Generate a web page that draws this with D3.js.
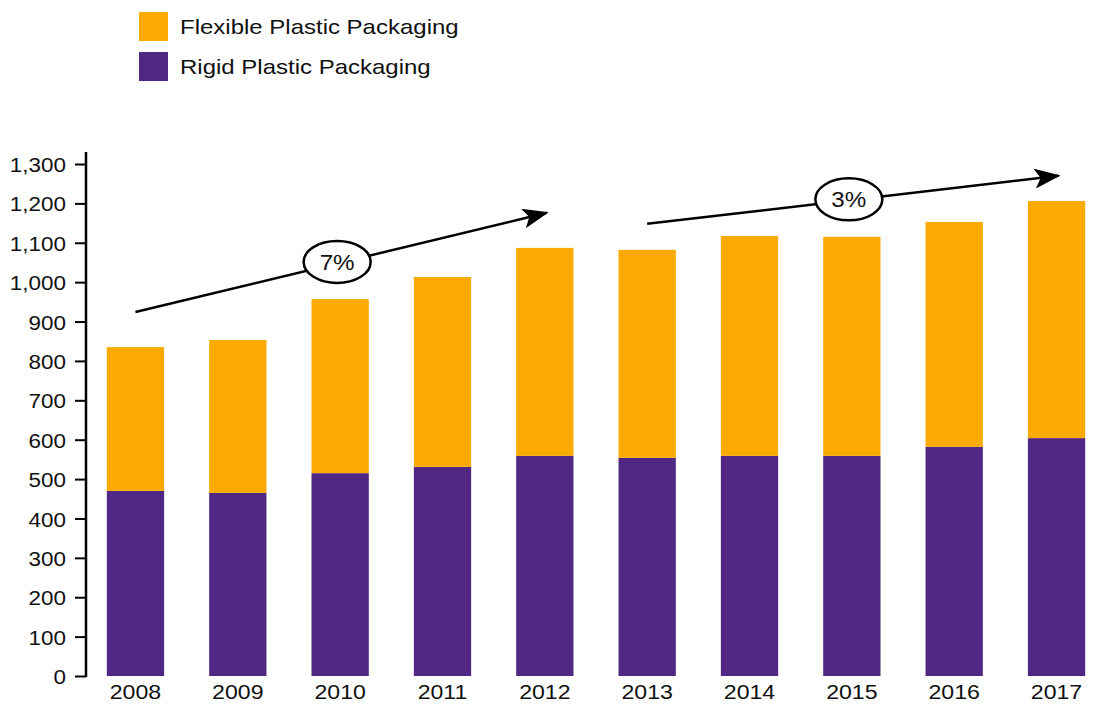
<!DOCTYPE html>
<html>
<head>
<meta charset="utf-8">
<script src="https://cdn.jsdelivr.net/npm/d3@7"></script>
<style>
  body { margin: 0; background: #fff; }
  svg { font-family: "Liberation Sans", Arial, Helvetica, sans-serif; }
</style>
</head>
<body>
<div id="chart"></div>
<script>
  // data
  let years = ["2008", "2009", "2010", "2011", "2012", "2013", "2014", "2015", "2016", "2017"];
  let rigid = [470, 465, 515, 531, 559, 554, 559, 559, 582, 604];
  let flexible = [365, 388, 442, 482, 528, 528, 558, 556, 571, 602];
  let seriesNames = ["Flexible Plastic Packaging", "Rigid Plastic Packaging"];
  let yTicks = [0, 100, 200, 300, 400, 500, 600, 700, 800, 900, 1000, 1100, 1200, 1300];

  // growth arrows: from year/value to year/value, label in the middle
  let growthLabels = ["7%", "3%"];
  let growthFrom = [["2008", 924], ["2013", 1148]];
  let growthTo = [["2012", 1176], ["2017", 1270]];

  let width = 1097, height = 704;
  let colors = { flexible: "#FAAA00", rigid: "#502884" };

  // the original text is drawn a little wider than Liberation Sans
  let stretch = function(sel, k) {
    sel.each(function() {
      let t = d3.select(this);
      let x0 = +t.attr("x") || 0;
      t.attr("x", x0 / k).attr("transform", "scale(" + k + ",1)");
    });
  };

  let svg = d3.select("#chart").append("svg")
              .attr("width", width)
              .attr("height", height);

  let x = d3.scaleBand()
            .domain(years)
            .range([84.3, 1107.7])
            .paddingInner(0.44)
            .paddingOuter(0.22);

  let y = d3.scaleLinear()
            .domain([0, 1300])
            .range([676, 164]);

  // bars
  let rows = years.map(function(yr, i) {
    return { year: yr, rigid: rigid[i], flexible: flexible[i] };
  });
  let stack = d3.stack().keys(["rigid", "flexible"])(rows);

  svg.append("g")
     .selectAll("g")
     .data(stack)
     .enter()
     .append("g")
     .attr("fill", function(d) { return colors[d.key]; })
     .selectAll("rect")
     .data(function(d) { return d; })
     .enter()
     .append("rect")
     .attr("x", function(d) { return x(d.data.year); })
     .attr("width", x.bandwidth())
     .attr("y", function(d) { return y(d[1]); })
     .attr("height", function(d) { return y(d[0]) - y(d[1]); });

  // y axis
  let yAxis = svg.append("g")
                 .attr("transform", "translate(86,0)")
                 .call(d3.axisLeft(y)
                         .tickValues(yTicks)
                         .tickFormat(d3.format(","))
                         .tickSize(11)
                         .tickPadding(9));
  yAxis.select(".domain").remove();
  yAxis.selectAll(".tick line").attr("stroke", "#000").attr("stroke-width", 2);
  yAxis.selectAll(".tick text")
       .attr("fill", "#111")
       .attr("dy", "0.36em")
       .style("font-size", "21px")
       .call(stretch, 1.07);
  svg.append("line")
     .attr("x1", 86).attr("x2", 86)
     .attr("y1", y(0) + 1).attr("y2", 152)
     .attr("stroke", "#000")
     .attr("stroke-width", 2.5);

  // x axis labels
  let xAxis = svg.append("g")
                 .attr("transform", "translate(0," + y(0) + ")")
                 .call(d3.axisBottom(x).tickSize(0).tickPadding(8));
  xAxis.select(".domain").remove();
  xAxis.selectAll(".tick text")
       .attr("fill", "#111")
       .style("font-size", "21px")
       .call(stretch, 1.1);

  // legend
  let legend = svg.append("g").attr("transform", "translate(139,12)");
  let legendColors = [colors.flexible, colors.rigid];
  let legendItems = legend.selectAll("g")
                          .data(seriesNames)
                          .enter()
                          .append("g")
                          .attr("transform", function(d, i) { return "translate(0," + (i * 40) + ")"; });
  legendItems.append("rect")
             .attr("width", 29)
             .attr("height", 29)
             .attr("fill", function(d, i) { return legendColors[i]; });
  legendItems.append("text")
             .attr("x", 41)
             .attr("y", 22)
             .attr("fill", "#111")
             .style("font-size", "20px")
             .text(function(d) { return d; })
             .call(stretch, 1.2);

  // arrowhead
  svg.append("defs")
     .append("marker")
     .attr("id", "arrowhead")
     .attr("viewBox", "0 0 26 20")
     .attr("refX", 24)
     .attr("refY", 10)
     .attr("markerWidth", 26)
     .attr("markerHeight", 20)
     .attr("markerUnits", "userSpaceOnUse")
     .attr("orient", "auto")
     .append("path")
     .attr("d", "M0,0 L26,10 L0,20 L6,10 Z")
     .attr("fill", "#000");

  let cx = function(yr) { return x(yr) + x.bandwidth() / 2; };

  growthLabels.forEach(function(label, i) {
    let x1 = cx(growthFrom[i][0]), y1 = y(growthFrom[i][1]);
    let x2 = cx(growthTo[i][0]) + 2, y2 = y(growthTo[i][1]);
    let g = svg.append("g").attr("class", "growth");
    g.append("line")
     .attr("x1", x1).attr("y1", y1)
     .attr("x2", x2).attr("y2", y2)
     .attr("stroke", "#000")
     .attr("stroke-width", 2.5)
     .attr("marker-end", "url(#arrowhead)");
    let mx = (x1 + x2) / 2 - 4, my = (y1 + y2) / 2 - 0.5;
    g.append("ellipse")
     .attr("cx", mx).attr("cy", my)
     .attr("rx", 33.5).attr("ry", 21)
     .attr("fill", "#fff")
     .attr("stroke", "#000")
     .attr("stroke-width", 2.5);
    g.append("text")
     .attr("x", mx).attr("y", my + 8)
     .attr("text-anchor", "middle")
     .attr("fill", "#111")
     .style("font-size", "22px")
     .text(label)
     .call(stretch, 1.1);
  });
</script>
</body>
</html>
